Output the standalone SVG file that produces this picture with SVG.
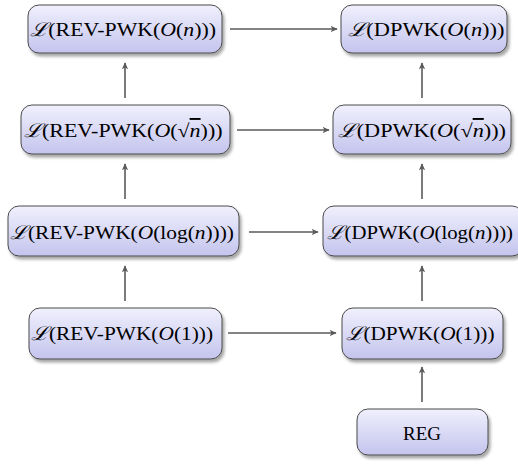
<svg xmlns="http://www.w3.org/2000/svg" width="518" height="464" viewBox="0 0 518 464">
<defs>
<linearGradient id="g" x1="0" y1="0" x2="0" y2="1">
<stop offset="0" stop-color="#f0f0fd"/>
<stop offset="1" stop-color="#c4c4ee"/>
</linearGradient>
<filter id="sh" x="-10%" y="-10%" width="130%" height="140%">
<feDropShadow dx="2" dy="3" stdDeviation="1.5" flood-color="#000" flood-opacity="0.35"/>
</filter>
<marker id="ah" viewBox="0 0 10 10" refX="9" refY="5" markerWidth="7" markerHeight="7" markerUnits="userSpaceOnUse" orient="auto">
<path d="M0,0.5 L10,5 L0,9.5 L2.5,5 Z" fill="#5a5a5a"/>
</marker>
</defs>
<style>
.b{fill:url(#g);stroke:#4a4a4a;stroke-width:1;filter:url(#sh)}
.t{font-family:"Liberation Serif","DejaVu Serif",serif;font-size:19px;fill:#000;text-anchor:middle;dominant-baseline:central}
.i{font-style:italic}
.s{font-family:"DejaVu Serif","Liberation Serif",serif;font-style:italic}
.c{stroke:#5a5a5a;stroke-width:1.6;fill:none;marker-end:url(#ah)}
</style>
<g id="n1"><rect class="b" x="28" y="5" width="194" height="48" rx="11"/>
<text class="t" x="123" y="29" textLength="186" lengthAdjust="spacingAndGlyphs"><tspan class="s">ℒ</tspan>(REV-PWK(<tspan class="i">O</tspan>(<tspan class="i">n</tspan>)))</text></g>
<g id="n2"><rect class="b" x="341" y="5" width="166" height="48" rx="11"/>
<text class="t" x="426" y="29" textLength="157" lengthAdjust="spacingAndGlyphs"><tspan class="s">ℒ</tspan>(DPWK(<tspan class="i">O</tspan>(<tspan class="i">n</tspan>)))</text></g>
<g id="n3"><rect class="b" x="21" y="105" width="209" height="49" rx="11"/>
<text class="t" x="123" y="130" textLength="199" lengthAdjust="spacingAndGlyphs"><tspan class="s">ℒ</tspan>(REV-PWK(<tspan class="i">O</tspan>(√<tspan class="i" text-decoration="overline">n</tspan>)))</text></g>
<g id="n4"><rect class="b" x="333" y="105" width="178" height="49" rx="11"/>
<text class="t" x="422" y="130" textLength="168" lengthAdjust="spacingAndGlyphs"><tspan class="s">ℒ</tspan>(DPWK(<tspan class="i">O</tspan>(√<tspan class="i" text-decoration="overline">n</tspan>)))</text></g>
<g id="n5"><rect class="b" x="8" y="206" width="231" height="50" rx="11"/>
<text class="t" x="122" y="232" textLength="224" lengthAdjust="spacingAndGlyphs"><tspan class="s">ℒ</tspan>(REV-PWK(<tspan class="i">O</tspan>(log(<tspan class="i">n</tspan>))))</text></g>
<g id="n6"><rect class="b" x="323" y="206" width="200" height="50" rx="11"/>
<text class="t" x="420" y="232" textLength="186" lengthAdjust="spacingAndGlyphs"><tspan class="s">ℒ</tspan>(DPWK(<tspan class="i">O</tspan>(log(<tspan class="i">n</tspan>))))</text></g>
<g id="n7"><rect class="b" x="29" y="308" width="193" height="51" rx="11"/>
<text class="t" x="122" y="333" textLength="182" lengthAdjust="spacingAndGlyphs"><tspan class="s">ℒ</tspan>(REV-PWK(<tspan class="i">O</tspan>(1)))</text></g>
<g id="n8"><rect class="b" x="342" y="308" width="161" height="51" rx="11"/>
<text class="t" x="420" y="333" textLength="149" lengthAdjust="spacingAndGlyphs"><tspan class="s">ℒ</tspan>(DPWK(<tspan class="i">O</tspan>(1)))</text></g>
<g id="n9"><rect class="b" x="357" y="409" width="131" height="46" rx="11"/>
<text class="t" x="422" y="433">REG</text></g>
<g id="connectors">
<path class="c" d="M230,29 H337"/>
<path class="c" d="M237,130 H329"/>
<path class="c" d="M249,232 H318"/>
<path class="c" d="M228,333 H336"/>
<path class="c" d="M125,98 V63"/>
<path class="c" d="M125,199 V164"/>
<path class="c" d="M125,301 V266"/>
<path class="c" d="M422,98 V63"/>
<path class="c" d="M422,199 V164"/>
<path class="c" d="M422,301 V266"/>
<path class="c" d="M422,402 V367"/>
</g>
</svg>
